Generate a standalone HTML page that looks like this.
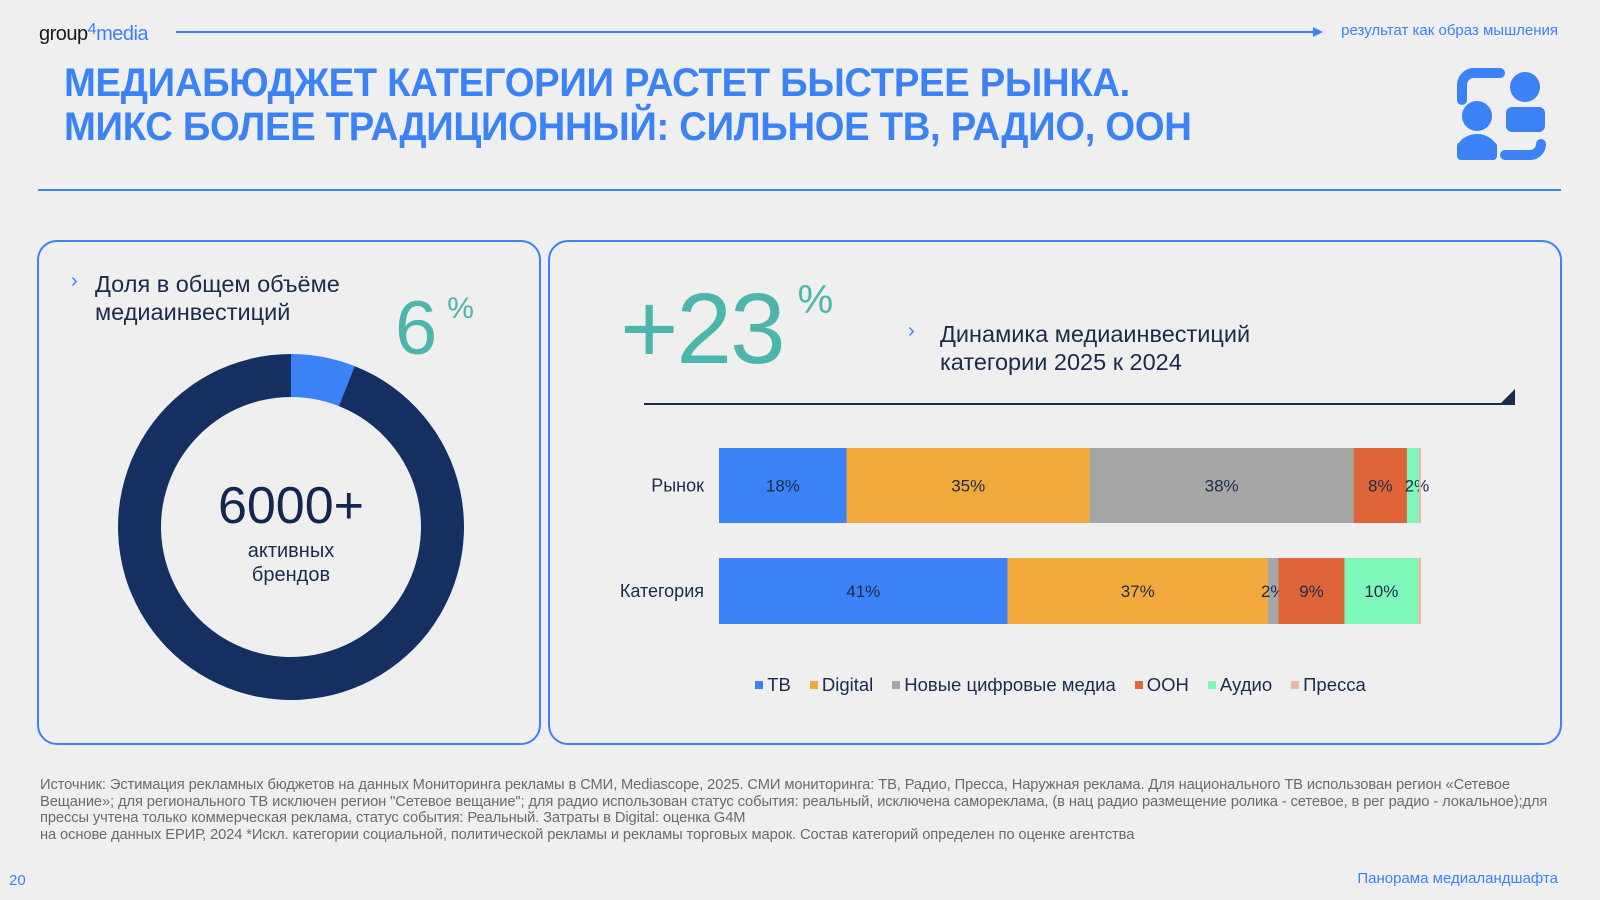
<!DOCTYPE html>
<html><head><meta charset="utf-8"><style>
body{margin:0;width:1600px;height:900px;background:#efefef;font-family:"Liberation Sans",sans-serif;position:relative;overflow:hidden}
.a{position:absolute;margin:0}
.card{position:absolute;border:2px solid #3b82f6;border-radius:20px;box-sizing:border-box}
</style></head><body>
<div class="a" style="left:39px;top:21px;font-size:20px;color:#1a1a1a;letter-spacing:-0.5px">group<span style="color:#3b82f6;font-size:16px;vertical-align:6px">4</span><span style="color:#3b82f6">media</span></div>
<div class="a" style="left:176px;top:31px;width:1140px;height:2px;background:#3b82f6"></div>
<div class="a" style="left:1313px;top:27px;width:0;height:0;border-left:10px solid #3b82f6;border-top:5px solid transparent;border-bottom:5px solid transparent"></div>
<div class="a" style="right:42px;top:22px;font-size:15px;color:#3b82f6">результат как образ мышления</div>
<div class="a" style="left:64px;top:61px;font-size:40px;font-weight:bold;color:#3b82f6;line-height:44px;letter-spacing:-0.3px;transform:scaleX(0.955);transform-origin:0 0;white-space:nowrap">МЕДИАБЮДЖЕТ КАТЕГОРИИ РАСТЕТ БЫСТРЕЕ РЫНКА.<br>МИКС БОЛЕЕ ТРАДИЦИОННЫЙ: СИЛЬНОЕ ТВ, РАДИО, ООН</div>
<svg class="a" style="left:1450px;top:65px" width="110" height="105" viewBox="1450 65 110 105">
<g fill="#3b82f6"><path d="M1462 100 V85 a12 12 0 0 1 12 -12 H1500" stroke="#3b82f6" stroke-width="10" stroke-linecap="round" fill="none"/>
<circle cx="1525" cy="87" r="15"/><rect x="1506" y="107" width="39" height="25" rx="6"/><path d="M1506 125 a19.5 18 0 0 1 39 0 Z"/>
<circle cx="1477" cy="116" r="15"/><rect x="1457" y="142" width="40" height="18" rx="4"/><path d="M1457 150 a20 16 0 0 1 40 0 Z"/>
<path d="M1505 155 H1530 a11 11 0 0 0 11 -11" stroke="#3b82f6" stroke-width="10" stroke-linecap="round" fill="none"/></g></svg>
<div class="a" style="left:38px;top:189px;width:1523px;height:2px;background:#3b82f6"></div>

<div class="card" style="left:37px;top:240px;width:504px;height:505px"></div>
<div class="a" style="left:71px;top:270px;font-size:20px;color:#3b82f6">›</div>
<div class="a" style="left:95px;top:270px;font-size:23.5px;color:#1c2b4a;line-height:28px">Доля в общем объёме<br>медиаинвестиций</div>
<div class="a" style="left:395px;top:285px;font-size:76px;color:#4db6ac;font-weight:300">6<span style="font-size:30px;vertical-align:36px;margin-left:10px">%</span></div>
<svg class="a" style="left:0;top:0" width="560" height="760" id="donut"></svg>
<div class="a" style="left:191px;top:476px;width:200px;text-align:center;font-size:52px;color:#142650">6000+</div>
<div class="a" style="left:191px;top:539px;width:200px;text-align:center;font-size:20px;color:#1c2b4a;line-height:24px">активных<br>брендов</div>

<div class="card" style="left:548px;top:240px;width:1014px;height:505px"></div>
<div class="a" style="left:620px;top:272px;font-size:100px;color:#4db6ac;font-weight:300;letter-spacing:-2px">+23<span style="font-size:40px;vertical-align:50px;margin-left:14px">%</span></div>
<div class="a" style="left:908px;top:320px;font-size:20px;color:#3b82f6">›</div>
<div class="a" style="left:940px;top:320px;font-size:23.5px;color:#1c2b4a;line-height:28px">Динамика медиаинвестиций<br>категории 2025 к 2024</div>
<div class="a" style="left:644px;top:403px;width:871px;height:2px;background:#1c2b4a"></div>
<div class="a" style="left:1501px;top:389px;width:0;height:0;border-left:14px solid transparent;border-bottom:14px solid #1c2b4a"></div>
<svg class="a" style="left:0;top:0" width="1600" height="720" id="bars"></svg>
<div class="a" id="legend" style="left:719px;top:674px;width:702px;text-align:center;font-size:18.5px;color:#1c2b4a;white-space:nowrap"></div>

<div class="a" style="left:40px;top:777px;width:1525px;font-size:14.7px;color:#6b6b6b;line-height:16.5px;letter-spacing:-0.1px">Источник: Эстимация рекламных бюджетов на данных Мониторинга рекламы в СМИ, Mediascope, 2025. СМИ мониторинга: ТВ, Радио, Пресса, Наружная реклама. Для национального ТВ использован регион «Сетевое Вещание»; для регионального ТВ исключен регион "Сетевое вещание"; для радио использован статус события: реальный, исключена самореклама, (в нац радио размещение ролика - сетевое, в рег радио - локальное);для прессы учтена только коммерческая реклама, статус события: Реальный. Затраты в Digital: оценка G4M<br>на основе данных ЕРИР, 2024 *Искл. категории социальной, политической рекламы и рекламы торговых марок. Состав категорий определен по оценке агентства</div>
<div class="a" style="left:9px;top:872px;font-size:15px;color:#3b82f6">20</div>
<div class="a" style="right:42px;top:870px;font-size:15px;color:#3b82f6">Панорама медиаландшафта</div>

<script>
const donutLabels=['Категория','Остальной рынок'];
const donutValues=[6,94];
const rows=['Рынок','Категория'];
const seriesNames=['ТВ','Digital','Новые цифровые медиа','ООН','Аудио','Пресса'];
const seriesColors=['#3b82f6','#f2a93b','#a6a6a6','#e0643a','#7ef8b8','#e8b8a0'];
const marketValues=[18.2,34.6,37.6,7.6,1.7,0.3];
const categoryValues=[41.1,37.1,1.5,9.4,10.5,0.4];
const marketLabels=['18%','35%','38%','8%','2%',''];
const categoryLabels=['41%','37%','2%','9%','10%',''];
const NS='http://www.w3.org/2000/svg';
(function(){
 const svg=document.getElementById('donut');const cx=291,cy=527,R=173,r=130;
 const cols=['#3b82f6','#162f63'];const tot=donutValues.reduce((a,b)=>a+b,0);let a0=0;
 donutValues.forEach((v,i)=>{const a1=a0+v/tot*2*Math.PI;
  const p=(ang,rad)=>[cx+rad*Math.sin(ang),cy-rad*Math.cos(ang)];
  const [x1,y1]=p(a0,R),[x2,y2]=p(a1,R),[x3,y3]=p(a1,r),[x4,y4]=p(a0,r);const lg=(a1-a0)>Math.PI?1:0;
  const path=document.createElementNS(NS,'path');
  path.setAttribute('d',`M${x1} ${y1}A${R} ${R} 0 ${lg} 1 ${x2} ${y2}L${x3} ${y3}A${r} ${r} 0 ${lg} 0 ${x4} ${y4}Z`);
  path.setAttribute('fill',cols[i]);
  
  
  svg.appendChild(path);a0=a1;});
})();
(function(){
 const svg=document.getElementById('bars');const x0=719,W=702;const rowTop=[448,558],rowH=[75,66];
 const xs=v=>v/100*W;
 [marketValues,categoryValues].forEach((vals,ri)=>{
  const labs=ri===0?marketLabels:categoryLabels;let x=x0;
  const t=document.createElementNS(NS,'text');t.setAttribute('x',x0-15);t.setAttribute('y',rowTop[ri]+rowH[ri]/2+6);
  t.setAttribute('text-anchor','end');t.setAttribute('font-size','18');t.setAttribute('fill','#1c2b4a');t.textContent=rows[ri];
  
  
  svg.appendChild(t);
  vals.forEach((v,i)=>{const w=xs(v);
   const rc=document.createElementNS(NS,'rect');rc.setAttribute('x',x);rc.setAttribute('y',rowTop[ri]);rc.setAttribute('width',w);rc.setAttribute('height',rowH[ri]);rc.setAttribute('fill',seriesColors[i]);
   
   
   svg.appendChild(rc);
   if(labs[i]){const tx=document.createElementNS(NS,'text');let cxp=x+w/2;if(w<15)cxp=x+w/2+(i===2?0:4);
    tx.setAttribute('x',cxp);tx.setAttribute('y',rowTop[ri]+rowH[ri]/2+6);tx.setAttribute('text-anchor','middle');tx.setAttribute('font-size','17');tx.setAttribute('fill','#1c2b4a');tx.textContent=labs[i];
    
    
    svg.appendChild(tx);}
   x+=w;});
 });
 const lg=document.getElementById('legend');
 seriesNames.forEach((n,i)=>{const s=document.createElement('span');s.style.marginRight='19px';
  s.innerHTML='<span style="display:inline-block;width:8px;height:8px;background:'+seriesColors[i]+';margin-right:4px;vertical-align:2px"></span>'+n;
  
  
  lg.appendChild(s);});
})();
</script>
</body></html>
